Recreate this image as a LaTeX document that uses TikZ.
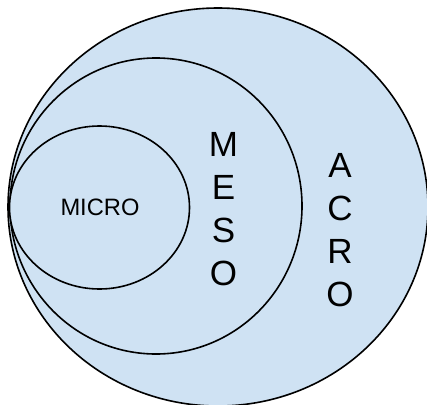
\documentclass[tikz,border=0pt]{standalone}
\usepackage{fontspec}
\setmainfont{Liberation Sans}
\usepackage{xcolor}
\usetikzlibrary{positioning}
\definecolor{ringblue}{HTML}{CFE2F3}
\tikzset{
ring/.style={fill=ringblue, draw=black, line width=1.6pt},
bigword/.style={align=center, inner sep=0pt, font=\fontsize{35}{43}\selectfont},
smallword/.style={inner sep=0pt, font=\fontsize{23.7}{28}\selectfont}
}

\begin{document}
\begin{tikzpicture}[x=1pt, y=-1pt]
  \useasboundingbox (0,0) rectangle (427,404);
  % rings, outer first
  \filldraw[ring] (218,207) ellipse [x radius=210, y radius=199];
  \filldraw[ring] (156,206) ellipse [x radius=146, y radius=148];
  \filldraw[ring] (99.5,207.5) ellipse [x radius=90, y radius=81.5];
  % labels
  \node[smallword] (micro) at (100,207) {MICRO};
  \node[bigword] (meso) at (223.5,209) {M\\E\\S\\O};
  \node[bigword] (acro) at (340,230) {A\\C\\R\\O};
\end{tikzpicture}
\end{document}
